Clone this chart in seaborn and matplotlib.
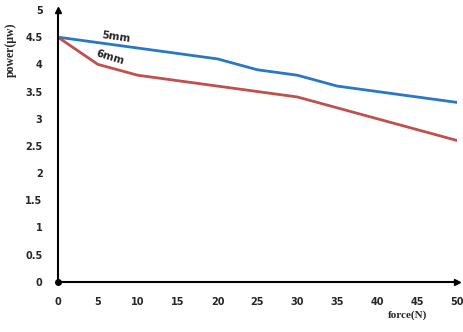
import numpy as np
import pandas as pd
import matplotlib
matplotlib.use("Agg")
import matplotlib.pyplot as plt
import seaborn as sns

sns.set_style("white")

force = [0, 5, 10, 15, 20, 25, 30, 35, 40, 45, 50]
power_5mm = [4.5, 4.4, 4.3, 4.2, 4.1, 3.9, 3.8, 3.6, 3.5, 3.4, 3.3]
power_6mm = [4.5, 4.0, 3.8, 3.7, 3.6, 3.5, 3.4, 3.2, 3.0, 2.8, 2.6]

df = pd.DataFrame({
    "force": force * 2,
    "power": power_5mm + power_6mm,
    "size": ["5mm"] * len(force) + ["6mm"] * len(force),
})

fig = plt.figure(figsize=(4.63, 3.32), dpi=100)
ax = fig.add_axes([0.125, 0.151, 0.862, 0.819])

sns.lineplot(data=df, x="force", y="power", hue="size",
             palette={"5mm": "#2a78c4", "6mm": "#c0504d"},
             linewidth=2, legend=False, ax=ax)

ax.set_xlim(0, 50)
ax.set_ylim(0, 5)
ax.set_xticks(np.arange(0, 51, 5))
ax.set_yticks(np.arange(0, 5.01, 0.5))
ax.set_yticklabels(["0", "0.5", "1", "1.5", "2", "2.5", "3", "3.5", "4", "4.5", "5"])

for s in ["top", "right"]:
    ax.spines[s].set_visible(False)
for s in ["left", "bottom"]:
    ax.spines[s].set_linewidth(1.5)
    ax.spines[s].set_color("black")

ax.tick_params(axis="both", labelsize=7, length=3, width=1.2, color="black", pad=8)
for lab in ax.get_xticklabels() + ax.get_yticklabels():
    lab.set_fontweight("bold")

# axis arrows
ax.plot(1, 0, ">k", transform=ax.transAxes, clip_on=False, markersize=4)
ax.plot(0, 1, "^k", transform=ax.transAxes, clip_on=False, markersize=4)
ax.plot(0, 0, "ok", transform=ax.transAxes, clip_on=False, markersize=4)

ax.set_xlabel("")
ax.set_ylabel("")
fig.text(0.881, 0.051, "force(N)", fontsize=8, fontweight="bold",
         family="Liberation Serif", ha="center", va="center")
fig.text(0.024, 0.85, "power(\u03bcw)", fontsize=8.5, fontweight="bold",
         family="Liberation Serif", rotation=90, ha="center", va="center")

ax.text(7.3, 4.5, "5mm", fontsize=7.5, fontweight="bold", rotation=-8,
        ha="center", va="center")
ax.text(6.6, 4.12, "6mm", fontsize=7.5, fontweight="bold", rotation=-17,
        ha="center", va="center")

fig.savefig("out.png", dpi=100)
